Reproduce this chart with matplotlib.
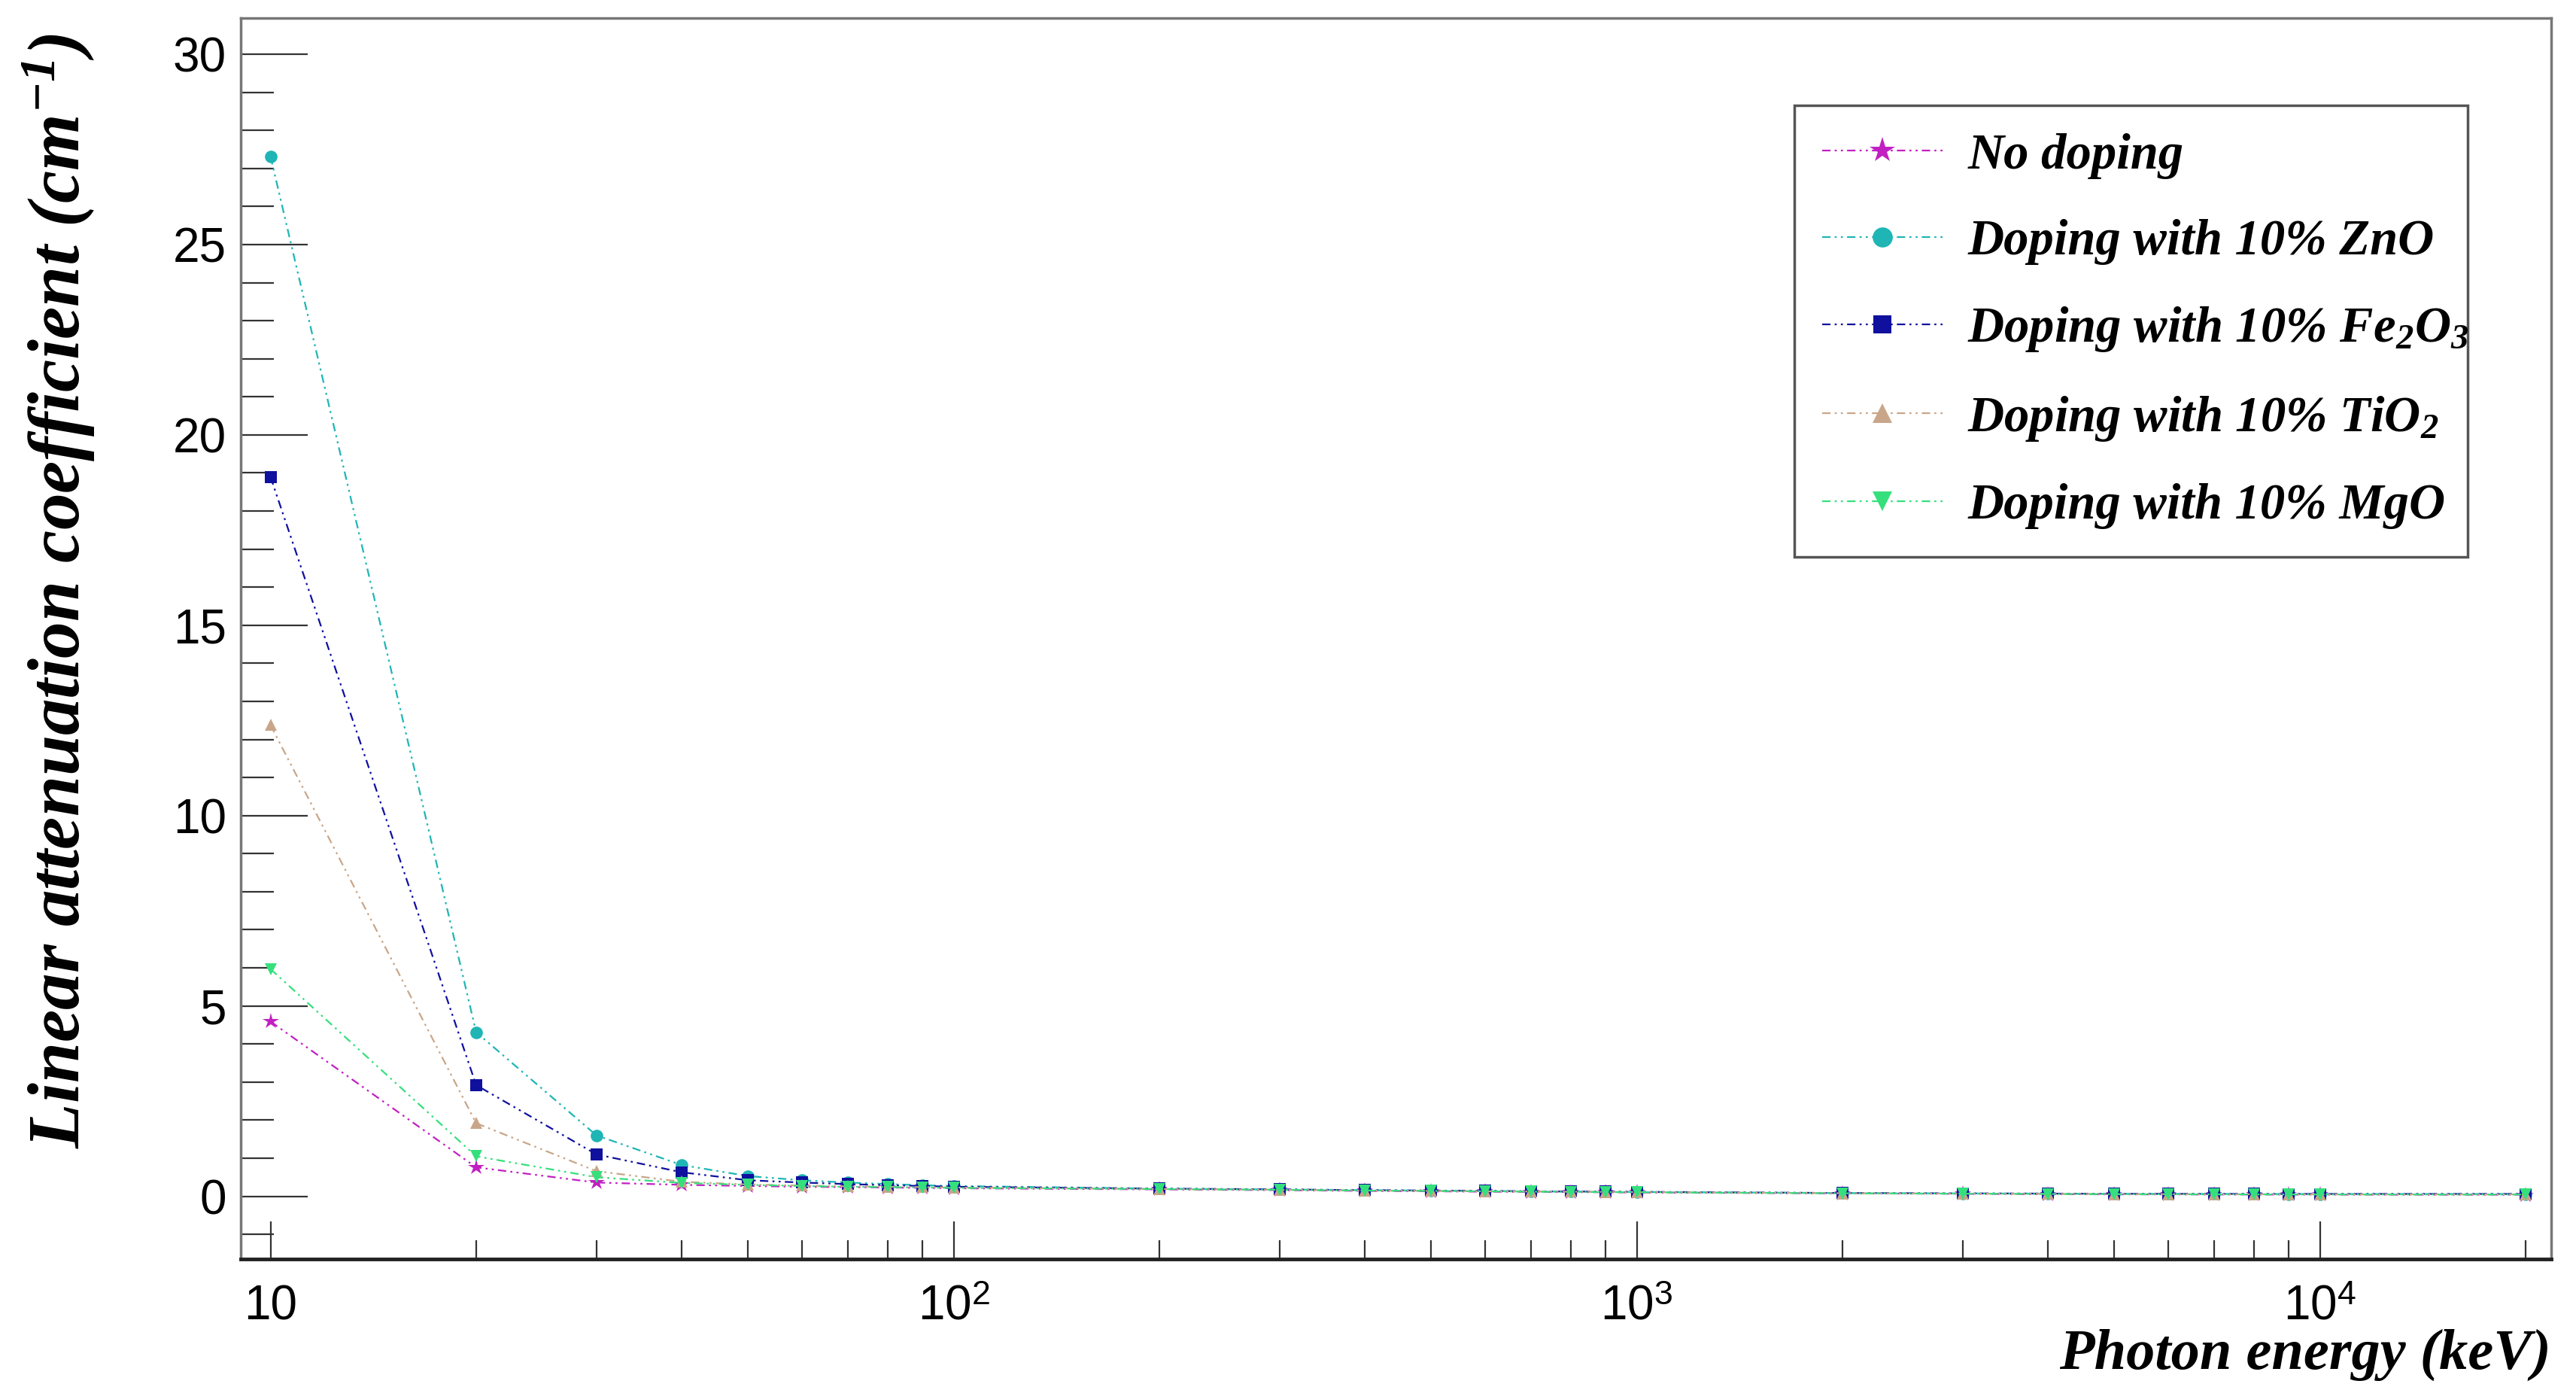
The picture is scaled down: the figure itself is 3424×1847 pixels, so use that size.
import matplotlib
matplotlib.use("Agg")
import matplotlib.pyplot as plt
from matplotlib.ticker import MultipleLocator, FixedLocator, NullFormatter

# photon energies (keV)
energy = [10, 20, 30, 40, 50, 60, 70, 80, 90, 100,
          200, 300, 400, 500, 600, 700, 800, 900, 1000,
          2000, 3000, 4000, 5000, 6000, 7000, 8000, 9000, 10000, 20000]

# linear attenuation coefficient (cm^-1)
no_doping = [4.59, 0.76, 0.36, 0.30, 0.27, 0.25, 0.24, 0.23, 0.22, 0.21,
             0.18, 0.16, 0.14, 0.13, 0.12, 0.115, 0.11, 0.105, 0.10,
             0.075, 0.065, 0.055, 0.05, 0.048, 0.046, 0.045, 0.044, 0.043, 0.04]
zno = [27.32, 4.31, 1.60, 0.82, 0.53, 0.42, 0.36, 0.32, 0.29, 0.27,
       0.20, 0.18, 0.16, 0.15, 0.14, 0.13, 0.125, 0.12, 0.115,
       0.085, 0.075, 0.07, 0.065, 0.063, 0.062, 0.061, 0.06, 0.06, 0.06]
fe2o3 = [18.9, 2.92, 1.10, 0.63, 0.42, 0.36, 0.32, 0.29, 0.27, 0.25,
         0.20, 0.18, 0.16, 0.15, 0.14, 0.13, 0.125, 0.12, 0.115,
         0.085, 0.075, 0.07, 0.065, 0.063, 0.062, 0.061, 0.06, 0.06, 0.06]
tio2 = [12.38, 1.92, 0.66, 0.38, 0.31, 0.28, 0.26, 0.25, 0.24, 0.23,
        0.19, 0.17, 0.15, 0.14, 0.13, 0.125, 0.12, 0.115, 0.11,
        0.08, 0.07, 0.062, 0.058, 0.055, 0.053, 0.052, 0.051, 0.05, 0.048]
mgo = [5.97, 1.05, 0.50, 0.35, 0.30, 0.27, 0.25, 0.24, 0.23, 0.22,
       0.19, 0.17, 0.15, 0.14, 0.13, 0.12, 0.115, 0.11, 0.105,
       0.078, 0.068, 0.06, 0.055, 0.052, 0.05, 0.049, 0.048, 0.047, 0.045]

series = [no_doping, zno, fe2o3, tio2, mgo]
labels = ["No doping",
          "Doping with 10% ZnO",
          "Doping with 10% Fe$_2$O$_3$",
          "Doping with 10% TiO$_2$",
          "Doping with 10% MgO"]
colors = ["#c21fc2", "#1fb5b5", "#10109e", "#c9a689", "#35e07c"]
markers = ["*", "o", "s", "^", "v"]
msizes = [16, 12, 11, 12, 12]

x_ticks = [10, 100, 1000, 10000]
x_tick_labels = ["10", "10$^{\\mathsf{2}}$", "10$^{\\mathsf{3}}$", "10$^{\\mathsf{4}}$"]
x_minor = [20, 30, 40, 50, 60, 70, 80, 90,
           200, 300, 400, 500, 600, 700, 800, 900,
           2000, 3000, 4000, 5000, 6000, 7000, 8000, 9000, 20000]

plt.rcParams['mathtext.fontset'] = 'custom'
plt.rcParams['mathtext.rm'] = 'Liberation Serif:italic:bold'
plt.rcParams['mathtext.it'] = 'Liberation Serif:italic:bold'
plt.rcParams['mathtext.bf'] = 'Liberation Serif:italic:bold'
plt.rcParams['mathtext.sf'] = 'Liberation Sans'

fig = plt.figure(figsize=(34.24, 18.47), dpi=100)
ax = fig.add_axes([0.0935, 0.0942, 0.9904 - 0.0935, 0.987 - 0.0942])

for vals, lab, col, mk, ms in zip(series, labels, colors, markers, msizes):
    ax.plot(energy, vals, color=col, linestyle=(0, (5, 2.5, 1.2, 2.5, 1.2, 2.5)),
            linewidth=1.6, marker=mk, markersize=ms, markeredgewidth=0,
            label=lab)

ax.set_xscale('log')
ax.set_xlim(9.05, 21800)
ax.set_ylim(-1.65, 30.95)

ax.xaxis.set_major_locator(FixedLocator(x_ticks))
ax.set_xticklabels(x_tick_labels)
ax.xaxis.set_minor_locator(FixedLocator(x_minor))
ax.xaxis.set_minor_formatter(NullFormatter())
ax.yaxis.set_major_locator(MultipleLocator(5))
ax.yaxis.set_minor_locator(MultipleLocator(1))

ax.tick_params(axis='y', which='major', direction='in', length=64, width=1.6,
               color='#333333', pad=14, labelsize=46)
ax.tick_params(axis='y', which='minor', direction='in', length=32, width=1.6,
               color='#333333')
ax.tick_params(axis='x', which='major', direction='in', length=36, width=1.6,
               color='#333333', pad=24, labelsize=46)
ax.tick_params(axis='x', which='minor', direction='in', length=18, width=1.6,
               color='#333333')
for lab in ax.get_xticklabels() + ax.get_yticklabels():
    lab.set_fontfamily('Liberation Sans')

for side in ['top', 'right', 'left']:
    ax.spines[side].set_color('#777777')
    ax.spines[side].set_linewidth(2.5)
ax.spines['bottom'].set_color('#222222')
ax.spines['bottom'].set_linewidth(3.5)

fig.text(0.0225, 0.976, "Linear attenuation coefficient (cm$^{-1}$)",
         rotation=90, ha='center', va='top', fontsize=70,
         family='Liberation Serif', style='italic', weight='bold')
fig.text(0.9904, 1 - 1800 / 1847, "Photon energy (keV)",
         ha='right', va='center', fontsize=55,
         family='Liberation Serif', style='italic', weight='bold')

leg = ax.legend(loc='upper left',
                bbox_to_anchor=(0.6966, 0.6026, 0.958 - 0.6966, 0.9242 - 0.6026),
                bbox_transform=fig.transFigure, mode='expand', borderaxespad=0,
                prop={'family': 'Liberation Serif', 'style': 'italic',
                      'weight': 'bold', 'size': 48},
                fancybox=False, framealpha=1, edgecolor='#555555',
                handlelength=2.4, handletextpad=0.5, labelspacing=0.8,
                borderpad=0.55, markerscale=1.6)
leg.get_frame().set_linewidth(2.5)

fig.savefig('out.png', dpi=100)
